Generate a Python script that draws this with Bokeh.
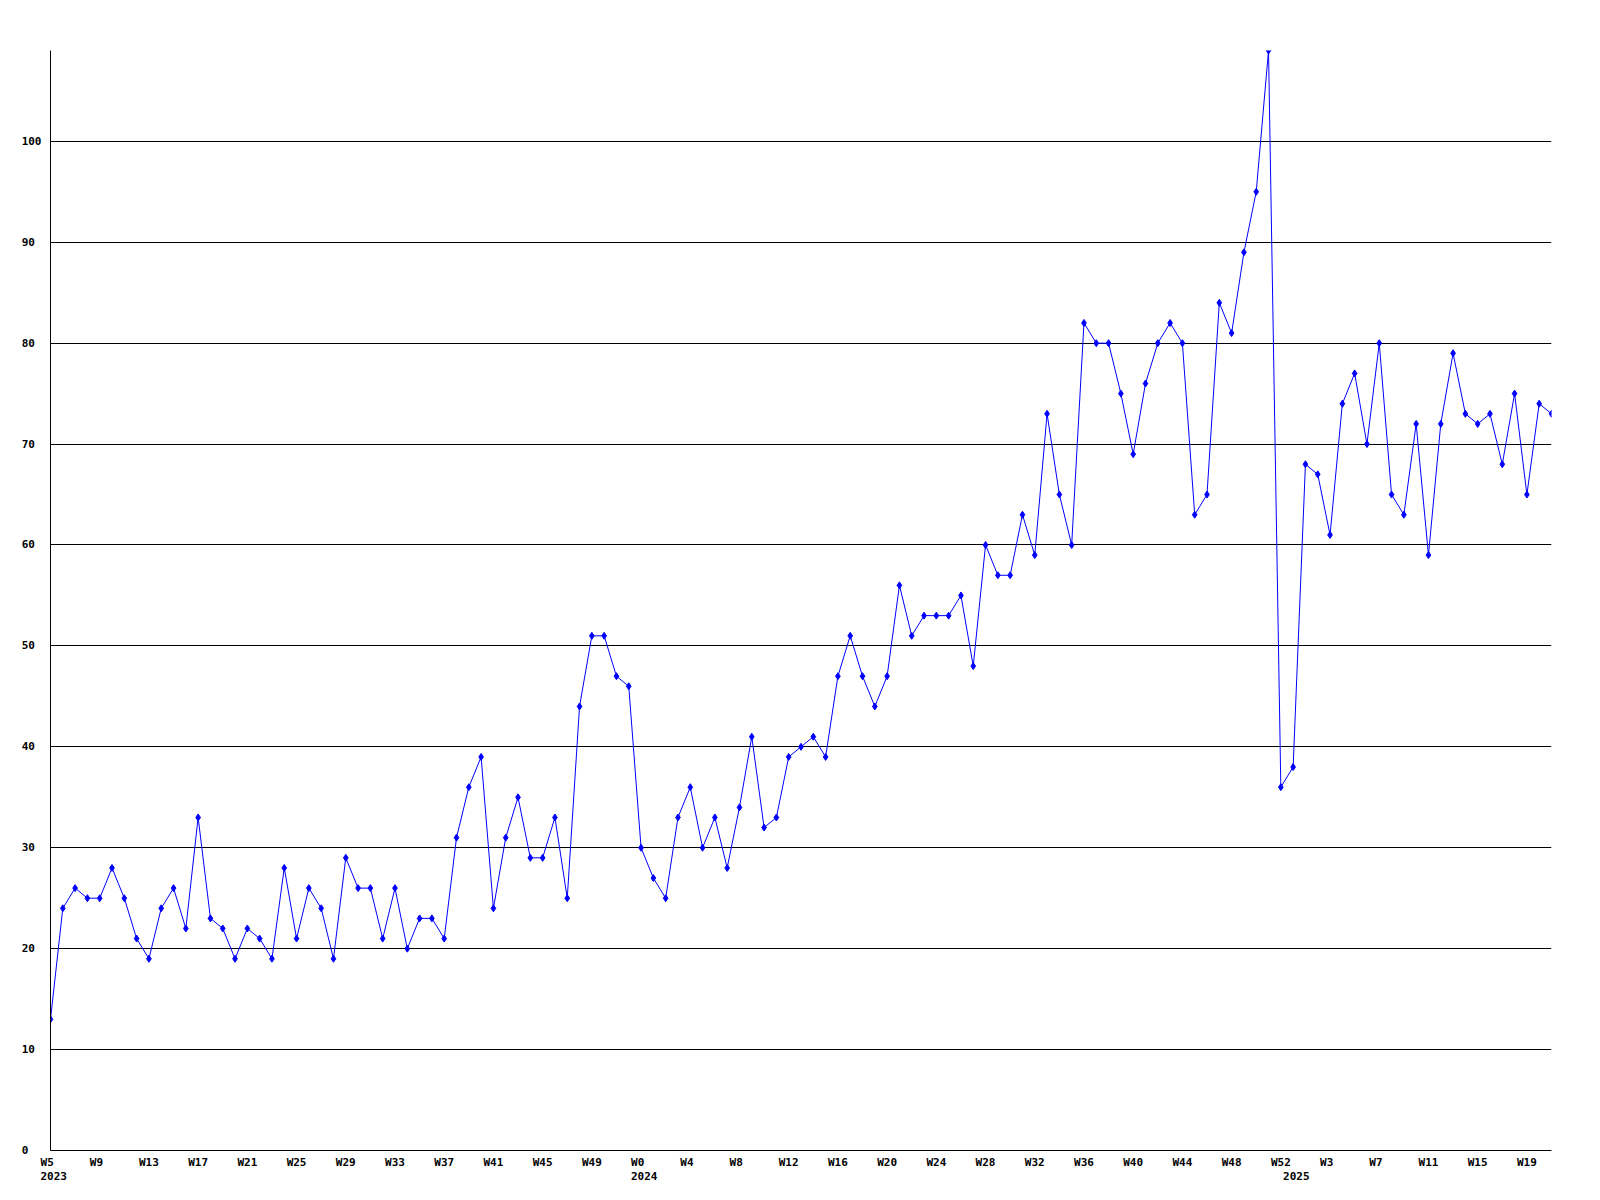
from bokeh.plotting import figure
from bokeh.models import FixedTicker, LinearAxis, Range1d
from bokeh.embed import file_html
from bokeh.resources import INLINE

# weekly values, 2023 W5 .. 2025 W21
values = [13, 24, 26, 25, 25, 28, 25, 21, 19, 24, 26, 22, 33, 23, 22, 19, 22, 21, 19, 28,
          21, 26, 24, 19, 29, 26, 26, 21, 26, 20, 23, 23, 21, 31, 36, 39, 24, 31, 35, 29,
          29, 33, 25, 44, 51, 51, 47, 46, 30, 27, 25, 33, 36, 30, 33, 28, 34, 41, 32, 33,
          39, 40, 41, 39, 47, 51, 47, 44, 47, 56, 51, 53, 53, 53, 55, 48, 60, 57, 57, 63,
          59, 73, 65, 60, 82, 80, 80, 75, 69, 76, 80, 82, 80, 63, 65, 84, 81, 89, 95, 109,
          36, 38, 68, 67, 61, 74, 77, 70, 80, 65, 63, 72, 59, 72, 79, 73, 72, 73, 68, 75,
          65, 74, 73]

week_labels = ["W5", "W9", "W13", "W17", "W21", "W25", "W29", "W33", "W37", "W41", "W45", "W49",
               "W0", "W4", "W8", "W12", "W16", "W20", "W24", "W28", "W32", "W36", "W40", "W44", "W48", "W52",
               "W3", "W7", "W11", "W15", "W19"]
week_tick_idx = [0, 4, 8, 12, 16, 20, 24, 28, 32, 36, 40, 44,
                 48, 52, 56, 60, 64, 68, 72, 76, 80, 84, 88, 92, 96, 100,
                 104, 108, 112, 116, 120]
year_labels = ["2023", "2024", "2025"]
year_tick_idx = [0, 48, 101]
y_ticks = [0, 10, 20, 30, 40, 50, 60, 70, 80, 90, 100]

NB = "\u00a0"
FONT = "DejaVu Sans Mono"
BLUE = "#0000ff"

x = list(range(len(values)))

p = figure(width=1592, height=1192, output_backend="svg", toolbar_location=None,
           x_range=Range1d(0, len(values) - 1), y_range=Range1d(0, 109),
           x_axis_location=None,
           min_border_left=50, min_border_top=50, min_border_right=41, min_border_bottom=42)
p.outline_line_color = None
p.background_fill_color = "white"
p.border_fill_color = "white"


def style_axis(ax):
    ax.axis_line_color = "black"
    ax.axis_line_width = 1
    ax.major_tick_out = 0
    ax.major_tick_in = 0
    ax.minor_tick_out = 0
    ax.minor_tick_in = 0
    ax.major_label_text_font = FONT
    ax.major_label_text_font_style = "bold"
    ax.major_label_text_font_size = "11px"
    ax.major_label_text_color = "black"


# y axis: labels appear left-aligned, pad with no-break spaces (monospace)
yax = p.yaxis[0]
style_axis(yax)
yax.ticker = FixedTicker(ticks=y_ticks)
yax.major_label_overrides = {t: str(t) + NB * (3 - len(str(t))) for t in y_ticks}
yax.major_label_standoff = 9

p.ygrid.ticker = FixedTicker(ticks=y_ticks)
p.ygrid.grid_line_color = "black"
p.ygrid.grid_line_width = 1
p.ygrid.grid_line_alpha = 1.0

# week axis
wax = LinearAxis(ticker=FixedTicker(ticks=week_tick_idx))
style_axis(wax)
wax.major_label_overrides = {t: (l + NB * (3 - len(l))) for t, l in zip(week_tick_idx, week_labels)}
wax.major_label_standoff = 5
p.add_layout(wax, "below")

# year axis
shift = 0.26
year_pos = [t + shift for t in year_tick_idx]
yrax = LinearAxis(ticker=FixedTicker(ticks=year_pos))
style_axis(yrax)
yrax.axis_line_color = None
yrax.major_label_overrides = {t: l for t, l in zip(year_pos, year_labels)}
yrax.major_label_standoff = 0
p.add_layout(yrax, "below")

for g in p.xgrid:
    g.visible = False

p.line(x, values, line_color=BLUE, line_width=1)
p.scatter(x, values, marker="diamond", size=7, fill_color=BLUE, line_color=BLUE)

open("out.html", "w").write(file_html(p, INLINE))
